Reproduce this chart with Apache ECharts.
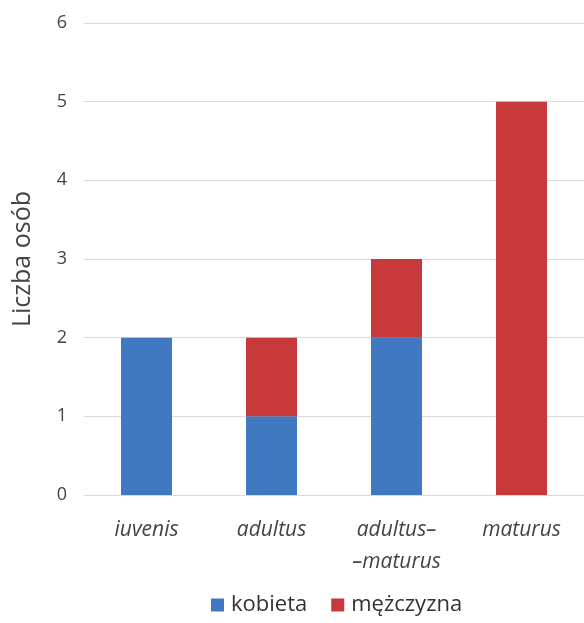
<!DOCTYPE html>
<html><head><meta charset="utf-8">
<script src="https://cdn.jsdelivr.net/npm/echarts@6/dist/echarts.min.js"></script>
<style>html,body{margin:0;padding:0;background:#fff}#c{width:584px;height:623px}</style>
</head><body><div id="c"></div>
<script>
const categories = ['iuvenis', 'adultus', 'adultus–\n–maturus', 'maturus'];
const kobieta = [2, 1, 2, 0];
const mezczyzna = [0, 1, 1, 5];
const yTicks = { min: 0, max: 6, interval: 1 };

const chart = echarts.init(document.getElementById('c'));
const font = '"Open Sans", "Noto Sans", sans-serif';
chart.setOption({
  animation: false,
  textStyle: { fontFamily: font },
  grid: { left: 84, right: -5, top: 23, bottom: 128 },
  legend: {
    bottom: 2, left: 206,
    itemWidth: 13, itemHeight: 13, itemGap: 24,
    icon: 'rect',
    textStyle: { fontSize: 22, color: '#333', fontFamily: font, padding: [0, 0, 0, 2] },
    data: ['kobieta', 'mężczyzna']
  },
  xAxis: {
    type: 'category', data: categories,
    axisLine: { show: false }, axisTick: { show: false },
    axisLabel: { fontStyle: 'italic', fontSize: 21, color: '#444', margin: 19, lineHeight: 32, fontFamily: font }
  },
  yAxis: {
    type: 'value', min: yTicks.min, max: yTicks.max, interval: yTicks.interval,
    name: 'Liczba osób', nameLocation: 'middle', nameGap: 49,
    nameTextStyle: { fontSize: 25, color: '#444', fontFamily: font },
    axisLabel: { fontSize: 18, color: '#444', margin: 17, fontFamily: font },
    splitLine: { lineStyle: { color: '#d9d9d9', width: 1 } },
    axisLine: { show: false }, axisTick: { show: false }
  },
  series: [
    { name: 'kobieta', type: 'bar', stack: 's', data: kobieta, barWidth: 51, itemStyle: { color: '#4178C2' } },
    { name: 'mężczyzna', type: 'bar', stack: 's', data: mezczyzna, barWidth: 51, itemStyle: { color: '#C8393B' } }
  ]
});
</script></body></html>
